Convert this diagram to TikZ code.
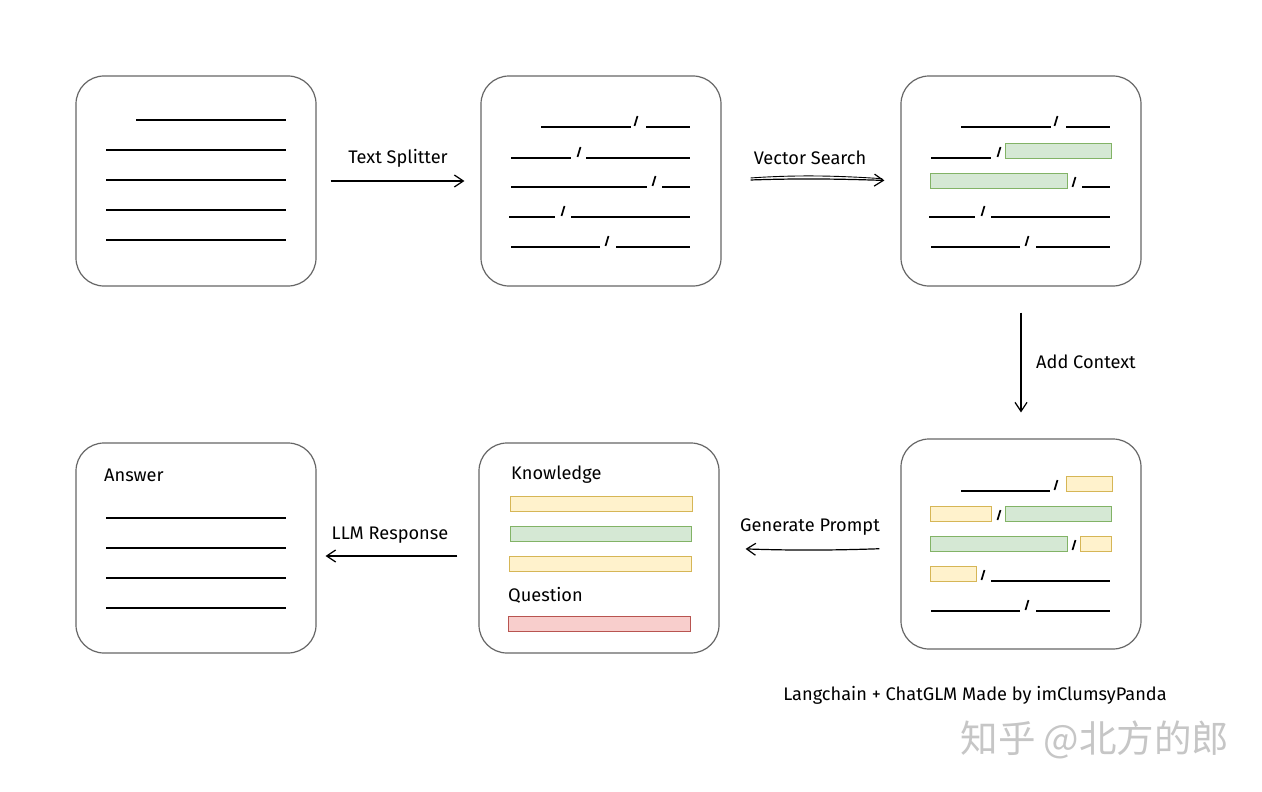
\documentclass[tikz,border=0pt]{standalone}
\usepackage{fontspec}
\setmainfont{Fira Sans}
\newfontfamily\cjkfont{Noto Sans CJK SC}
\usetikzlibrary{arrows.meta}
\definecolor{boxgray}{HTML}{666666}
\definecolor{gfill}{HTML}{D5E8D4}\definecolor{gline}{HTML}{82B366}
\definecolor{yfill}{HTML}{FFF2CC}\definecolor{yline}{HTML}{D6B656}
\definecolor{rfill}{HTML}{F8CECC}\definecolor{rline}{HTML}{B85450}
\tikzset{
  doc/.style={draw=boxgray, line width=1.2pt, rounded corners=28pt, minimum width=240pt, minimum height=210pt, fill=white},
  txl/.style={line width=1.4pt, black},
  slash/.style={line width=1.7pt, black},
  grn/.style={draw=gline, fill=gfill, line width=1pt},
  ylw/.style={draw=yline, fill=yfill, line width=1pt},
  red/.style={draw=rline, fill=rfill, line width=1pt},
  arr/.style={line width=1.2pt, -{Straight Barb[length=9pt,width=12pt]}},
  lbl/.style={font=\fontsize{18.2}{21}\selectfont, inner sep=0pt},
}
\newcommand\myLine[3]{\draw[txl] (#1,#3) -- (#2,#3);}
\newcommand\mySlash[2]{\draw[slash] (#1-1.5,#2-1) -- (#1+1.5,#2-11);}
\newcommand\myRect[5]{\draw[#1] (#2,#3) rectangle (#4,#5);}
\begin{document}
\begin{tikzpicture}[x=1pt,y=-1pt]
\useasboundingbox (0,0) rectangle (1262,792);
\fill[white] (0,0) rectangle (1262,792);
% boxes
\node[doc] (b1) at (196,181) {};
\node[doc] (b2) at (601,181) {};
\node[doc] (b3) at (1021,181) {};
\node[doc] (b4) at (1021,544) {};
\node[doc] (b5) at (599,548) {};
\node[doc] (b6) at (196,548) {};
% box 1
\myLine{136}{286}{120}
\myLine{106}{286}{150}
\myLine{106}{286}{180}
\myLine{106}{286}{210}
\myLine{106}{286}{240}
% box 2
\myLine{541}{631}{127}\mySlash{636}{127}\myLine{646}{690}{127}
\myLine{511}{571}{158}\mySlash{579}{158}\myLine{586}{690}{158}
\myLine{511}{647}{187}\mySlash{654}{187}\myLine{662}{690}{187}
\myLine{509}{555}{217}\mySlash{563}{217}\myLine{571}{690}{217}
\myLine{511}{600}{247}\mySlash{607}{247}\myLine{616}{690}{247}
% box 3
\myLine{961}{1051}{127}\mySlash{1056}{127}\myLine{1066}{1110}{127}
\myLine{931}{991}{158}\mySlash{999}{158}\myRect{grn}{1005}{143}{1111}{158}
\myRect{grn}{930}{173}{1067}{188}\mySlash{1074}{188}\myLine{1082}{1110}{187}
\myLine{929}{975}{217}\mySlash{983}{217}\myLine{991}{1110}{217}
\myLine{931}{1020}{247}\mySlash{1027}{247}\myLine{1036}{1110}{247}
% box 4
\myLine{961}{1050}{491}\mySlash{1056}{491}\myRect{ylw}{1066}{476}{1112}{491}
\myRect{ylw}{930}{506}{991}{521}\mySlash{999}{521}\myRect{grn}{1005}{506}{1111}{521}
\myRect{grn}{930}{536}{1067}{551}\mySlash{1074}{551}\myRect{ylw}{1080}{536}{1111}{551}
\myRect{ylw}{930}{566}{976}{581}\mySlash{983}{581}\myLine{991}{1110}{581}
\myLine{931}{1020}{611}\mySlash{1027}{611}\myLine{1036}{1110}{611}
% box 5
\node[lbl, anchor=west] (know) at (511,475) {Knowledge};
\myRect{ylw}{510}{496}{692}{511}
\myRect{grn}{510}{526}{691}{541}
\myRect{ylw}{509}{556}{691}{571}
\node[lbl, anchor=west] (quest) at (508,595) {Question};
\myRect{red}{508}{616}{690}{631}
% box 6
\node[lbl, anchor=west] (ans) at (104,475) {Answer};
\myLine{106}{286}{518}
\myLine{106}{286}{548}
\myLine{106}{286}{578}
\myLine{106}{286}{608}
% connectors
\draw[arr, shorten <=14pt, shorten >=16pt] (b1.east) -- (b2.west);
\node[lbl] (l1) at (398,158) {Text Splitter};
\draw[arr, shorten <=29pt, shorten >=16pt] (b2.east) to[bend left=2] (b3.west);
\draw[line width=0.9pt, shorten <=29pt, shorten >=18pt] ([yshift=1pt]b2.east) to[bend left=4] ([yshift=1pt]b3.west);
\node[lbl] (l2) at (810,158) {Vector Search};
\draw[arr, shorten <=26pt, shorten >=26pt] (b3.south) -- (b4.north);
\node[lbl, anchor=west] (l3) at (1036,362) {Add Context};
\draw[arr, shorten <=21pt, shorten >=26pt] ([yshift=-4pt]b4.west) to[bend left=2] (b5.east);
\node[lbl] (l4) at (810,527) {Generate Prompt};
\draw[arr, shorten <=21pt, shorten >=9pt] ([yshift=-8pt]b5.west) -- ([yshift=-8pt]b6.east);
\node[lbl] (l5) at (390,535) {LLM Response};
% footer
\node[lbl] (foot) at (975,695) {Langchain + ChatGLM Made by imClumsyPanda};
\node[inner sep=0pt, text=gray!45, font=\cjkfont\fontsize{37.5}{42}\selectfont] (wm) at (1095,740) {知乎 @北方的郎};
\end{tikzpicture}
\end{document}
